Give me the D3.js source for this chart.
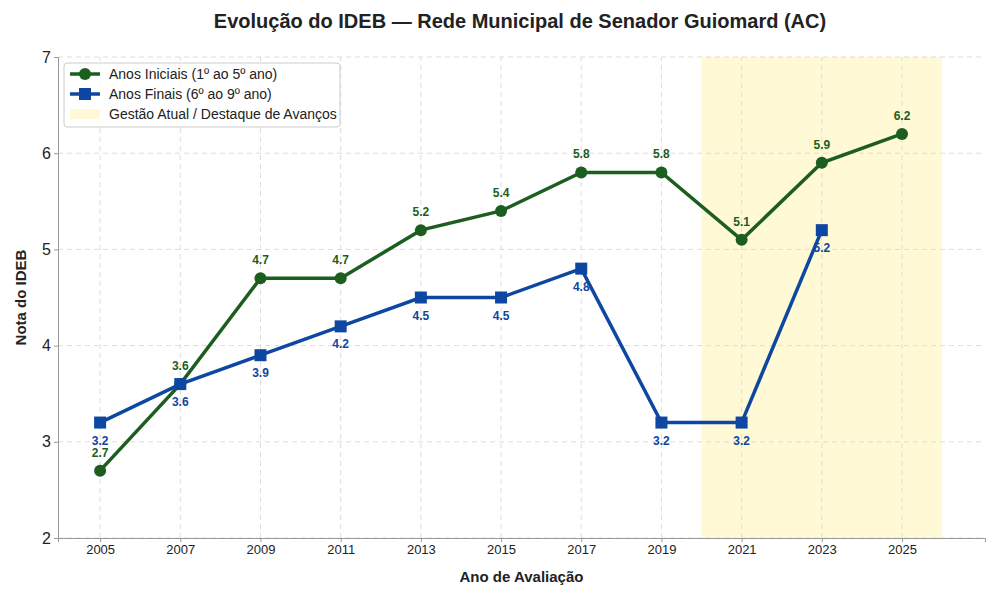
<!DOCTYPE html>
<html><head><meta charset="utf-8">
<script src="https://cdn.jsdelivr.net/npm/d3@7"></script>
<style>body{margin:0;background:#fff;font-family:"Liberation Sans",Arial,sans-serif}</style>
</head><body><svg id="c" width="1000" height="600"></svg>
<script>
const years=[2005,2007,2009,2011,2013,2015,2017,2019,2021,2023,2025];
const iniciais=[2.7,3.6,4.7,4.7,5.2,5.4,5.8,5.8,5.1,5.9,6.2];
const finaisYears=[2005,2007,2009,2011,2013,2015,2017,2019,2021,2023];
const finais=[3.2,3.6,3.9,4.2,4.5,4.5,4.8,3.2,3.2,5.2];
const yTicks=[2,3,4,5,6,7];
const svg=d3.select("#c");
const m={l:58,r:15,t:57,b:62};
const W=1000,H=600;
const x=d3.scaleLinear().domain([2003.95,2027.07]).range([m.l,W-m.r]);
const y=d3.scaleLinear().domain([2,7]).range([H-m.b,m.t]);
const gI="#1b5e20",gF="#0d47a1";
svg.append("rect").attr("x",x(2020)).attr("y",y(7)).attr("width",x(2026)-x(2020)).attr("height",y(2)-y(7)).attr("fill","#fff9d6");
const grid=svg.append("g").attr("stroke","#ddd").attr("stroke-dasharray","5,4");
yTicks.forEach(t=>grid.append("line").attr("x1",m.l).attr("x2",W-m.r).attr("y1",y(t)).attr("y2",y(t)));
years.forEach(t=>grid.append("line").attr("y1",y(2)).attr("y2",y(7)).attr("x1",x(t)).attr("x2",x(t)));
const ax=svg.append("g").attr("transform",`translate(0,${y(2)})`).call(d3.axisBottom(x).tickValues(years).tickFormat(d3.format("d")).tickSize(4));
const ay=svg.append("g").attr("transform",`translate(${m.l},0)`).call(d3.axisLeft(y).tickValues(yTicks).tickFormat(d3.format("d")).tickSize(4));
[ax,ay].forEach(a=>{a.selectAll("text").attr("font-size",13).attr("fill","#222");a.selectAll("line,path").attr("stroke","#999");});
ay.selectAll("text").attr("font-size",16);
svg.append("text").attr("x",W/2+20).attr("y",28).attr("text-anchor","middle").attr("font-size",20).attr("font-weight","bold").attr("fill","#222").text("Evolução do IDEB — Rede Municipal de Senador Guiomard (AC)");
svg.append("text").attr("x",(m.l+W-m.r)/2).attr("y",582).attr("text-anchor","middle").attr("font-size",15).attr("font-weight","bold").attr("fill","#222").text("Ano de Avaliação");
svg.append("text").attr("transform",`translate(26,${(y(2)+y(7))/2}) rotate(-90)`).attr("text-anchor","middle").attr("font-size",15).attr("font-weight","bold").attr("fill","#222").text("Nota do IDEB");
const line=d3.line().x(d=>x(d[0])).y(d=>y(d[1]));
const dI=years.map((t,i)=>[t,iniciais[i]]), dF=finaisYears.map((t,i)=>[t,finais[i]]);
svg.append("path").datum(dI).attr("d",line).attr("fill","none").attr("stroke",gI).attr("stroke-width",3.5);
svg.append("path").datum(dF).attr("d",line).attr("fill","none").attr("stroke",gF).attr("stroke-width",3.5);
svg.selectAll(".ci").data(dI).enter().append("circle").attr("cx",d=>x(d[0])).attr("cy",d=>y(d[1])).attr("r",6).attr("fill",gI);
svg.selectAll(".sf").data(dF).enter().append("rect").attr("x",d=>x(d[0])-6).attr("y",d=>y(d[1])-6).attr("width",12).attr("height",12).attr("fill",gF);
svg.selectAll(".li").data(dI).enter().append("text").attr("x",d=>x(d[0])).attr("y",d=>y(d[1])-14).attr("text-anchor","middle").attr("font-size",12).attr("font-weight","bold").attr("fill",gI).text(d=>d[1].toFixed(1));
svg.selectAll(".lf").data(dF).enter().append("text").attr("x",d=>x(d[0])).attr("y",d=>y(d[1])+22).attr("text-anchor","middle").attr("font-size",12).attr("font-weight","bold").attr("fill",gF).text(d=>d[1].toFixed(1));
const lg=svg.append("g").attr("transform","translate(64,63)");
lg.append("rect").attr("width",276).attr("height",64).attr("rx",3).attr("fill","#fff").attr("fill-opacity",0.85).attr("stroke","#ccc");
const items=[["Anos Iniciais (1º ao 5º ano)","c",gI],["Anos Finais (6º ao 9º ano)","s",gF],["Gestão Atual / Destaque de Avanços","b","#fff9d6"]];
items.forEach((it,i)=>{const yy=11+i*20;
 if(it[1]=="b"){lg.append("rect").attr("x",6).attr("y",yy-5).attr("width",30).attr("height",10).attr("fill",it[2]);}
 else{lg.append("line").attr("x1",6).attr("x2",36).attr("y1",yy).attr("y2",yy).attr("stroke",it[2]).attr("stroke-width",3.5);
  if(it[1]=="c")lg.append("circle").attr("cx",21).attr("cy",yy).attr("r",6).attr("fill",it[2]);
  else lg.append("rect").attr("x",15).attr("y",yy-6).attr("width",12).attr("height",12).attr("fill",it[2]);}
 lg.append("text").attr("x",45).attr("y",yy+5).attr("font-size",14).attr("fill","#222").text(it[0]);});
</script></body></html>
